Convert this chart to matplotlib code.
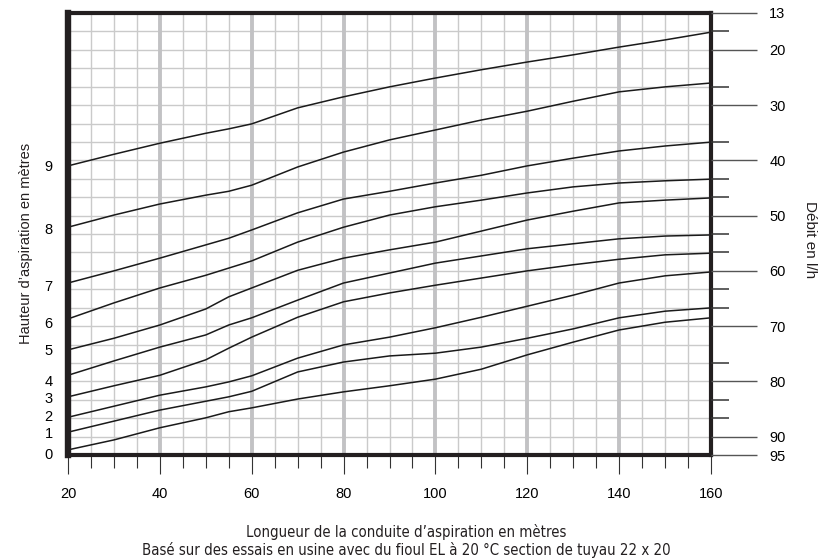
import matplotlib
matplotlib.use('Agg')
import matplotlib.pyplot as plt
import numpy as np

# suction line length (m) where the curves were read
length_m = [20, 30, 40, 50, 55, 60, 70, 80, 90, 100, 110, 120, 130, 140, 150, 160]

# flow rate (l/h) for each suction height (m)
flow_h9 = [41.0, 38.9, 36.9, 35.1, 34.3, 33.4, 30.5, 28.5, 26.7, 25.1, 23.6, 22.2, 20.9, 19.5, 18.2, 16.8]
flow_h8 = [52.1, 49.9, 47.9, 46.3, 45.6, 44.5, 41.2, 38.5, 36.3, 34.5, 32.7, 31.1, 29.3, 27.6, 26.7, 26.0]
flow_h7 = [62.2, 60.0, 57.7, 55.3, 54.1, 52.6, 49.5, 47.0, 45.6, 44.1, 42.7, 41.0, 39.6, 38.3, 37.4, 36.7]
flow_h6 = [68.7, 65.8, 63.1, 60.8, 59.5, 58.2, 54.8, 52.1, 49.9, 48.4, 47.2, 45.9, 44.8, 44.1, 43.7, 43.4]
flow_h5 = [74.3, 72.2, 69.8, 66.9, 64.7, 63.1, 59.9, 57.7, 56.2, 54.8, 52.8, 50.8, 49.2, 47.7, 47.2, 46.8]
flow_h4 = [78.9, 76.3, 73.8, 71.6, 69.8, 68.5, 65.3, 62.2, 60.4, 58.6, 57.3, 56.0, 55.1, 54.2, 53.7, 53.5]
flow_h3 = [82.8, 80.8, 78.9, 76.1, 74.0, 72.0, 68.4, 65.6, 64.0, 62.6, 61.3, 60.0, 58.9, 57.9, 57.1, 56.8]
flow_h2 = [86.5, 84.5, 82.5, 81.0, 80.1, 79.0, 75.8, 73.4, 72.0, 70.3, 68.4, 66.4, 64.4, 62.2, 60.9, 60.2]
flow_h1 = [89.2, 87.2, 85.2, 83.6, 82.8, 81.8, 78.3, 76.5, 75.4, 74.9, 73.8, 72.2, 70.5, 68.5, 67.3, 66.7]
flow_h0 = [92.4, 90.6, 88.4, 86.6, 85.5, 84.8, 83.2, 81.9, 80.8, 79.6, 77.8, 75.2, 72.9, 70.7, 69.3, 68.5]
curves = [flow_h0, flow_h1, flow_h2, flow_h3, flow_h4, flow_h5, flow_h6, flow_h7, flow_h8, flow_h9]

# left labels (suction height) and where they sit on the flow scale
height_labels = ['0', '1', '2', '3', '4', '5', '6', '7', '8', '9']
height_label_pos = [93.0, 89.3, 86.1, 83.0, 79.8, 74.3, 69.3, 62.6, 52.3, 41.0]

# right axis (flow rate)
flow_top, flow_bottom = 13.33, 93.33
flow_labels = ['13', '20', '30', '40', '50', '60', '70', '80', '90', '95']
flow_label_pos = [13.33, 20, 30, 40, 50, 60, 70, 80, 90, 93.33]
short_rows = [1, 4, 7, 9, 10, 12, 13, 15, 16, 19, 21, 22]

plt.rcParams['font.family'] = ['Liberation Sans', 'DejaVu Sans']

fig = plt.figure(figsize=(8.19, 5.58), dpi=100)
ax = fig.add_axes([68 / 819, 103 / 558, 643 / 819, 442 / 558])
ax.set_xlim(20, 160)
ax.set_ylim(flow_bottom, flow_top)

# grid
step = (flow_bottom - flow_top) / 24
for k in range(1, 24):
    ax.axhline(flow_top + k * step, color='#cacaca', lw=1.0, zorder=0)
for v in range(25, 160, 5):
    thick = v % 20 == 0
    ax.axvline(v, color='#c2c2c4' if thick else '#cacaca', lw=2.8 if thick else 1.0, zorder=0)

for fl in curves:
    ax.plot(length_m, fl, color='#1a1a1a', lw=1.1, zorder=3, solid_joinstyle='round')

for side, w in [('left', 4.6), ('top', 3.0), ('right', 3.0), ('bottom', 3.0)]:
    ax.spines[side].set_linewidth(w)
    ax.spines[side].set_color('#231f20')
    ax.spines[side].set_zorder(5)

ax.set_xticks(range(20, 161, 20))
ax.set_xticks([v for v in range(25, 160, 5) if v % 20], minor=True)
ax.tick_params(axis='x', which='major', length=14, width=0.8, color='#333333',
               pad=9, labelsize=10.5)
ax.tick_params(axis='x', which='minor', length=9, width=0.8, color='#333333')
ax.set_yticks(height_label_pos, labels=height_labels)
ax.tick_params(axis='y', which='both', length=0, pad=11, labelsize=10.5)

ax2 = ax.twinx()
ax2.set_ylim(flow_bottom, flow_top)
for s in ax2.spines.values():
    s.set_visible(False)
ax2.set_yticks(flow_label_pos, labels=flow_labels)
ax2.set_yticks([flow_top + k * step for k in short_rows], minor=True)
ax2.tick_params(axis='y', which='major', length=33, width=1.0, color='#555555',
                pad=9, labelsize=10.5)
ax2.tick_params(axis='y', which='minor', length=13, width=1.1, color='#333333')

fig.text(26 / 819, 1 - 243 / 558, 'Hauteur d’aspiration en mètres', rotation=90,
         ha='center', va='center', fontsize=10.5, color='#231f20')
fig.text(810 / 819, 1 - 240 / 558, 'Débit en l/h', rotation=270,
         ha='center', va='center', fontsize=11, color='#231f20')

# bottom captions, one common size fitted to the width they take in the reference
captions = [('Longueur de la conduite d’aspiration en mètres', 532),
            ('Basé sur des essais en usine avec du fioul EL à 20 °C section de tuyau 22 x 20', 550)]
renderer = fig.canvas.get_renderer()
cap_texts = [fig.text(406 / 819, 1 - ypx / 558, txt, ha='center', va='center',
                      fontsize=11, family='DejaVu Sans', fontstretch='condensed',
                      color='#231f20') for txt, ypx in captions]
total = sum(t.get_window_extent(renderer).width for t in cap_texts)
for t in cap_texts:
    t.set_fontsize(11 * (348 + 501) / total)

fig.savefig('out.png', dpi=100)
